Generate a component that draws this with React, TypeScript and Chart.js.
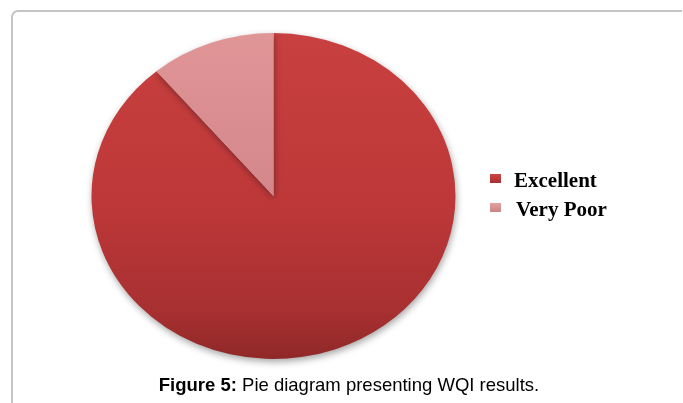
import React, { useEffect, useRef } from "react";
import { Chart, registerables } from "chart.js";

Chart.register(...registerables);

const categories = ["Excellent", "Very Poor"];
const values = [8, 1];
const caption = "Pie diagram presenting WQI results.";
const captionLabel = "Figure 5:";

const Y_SQUASH = 163 / 182;

const ellipsePlugin = {
  id: "ellipse",
  beforeDatasetsDraw(chart: any) {
    const meta = chart.getDatasetMeta(0);
    const arc = meta.data[0];
    if (!arc) return;
    const ctx = chart.ctx;
    ctx.save();
    ctx.translate(arc.x, arc.y);
    ctx.scale(1, Y_SQUASH);
    ctx.translate(-arc.x, -arc.y);
    ctx.shadowColor = "rgba(0,0,0,0.35)";
    ctx.shadowBlur = 7;
    ctx.shadowOffsetX = 1;
    ctx.shadowOffsetY = 3;
  },
  afterDatasetsDraw(chart: any) {
    chart.ctx.restore();
  },
};

export default function App() {
  const ref = useRef<HTMLCanvasElement>(null);

  useEffect(() => {
    if (!ref.current) return;
    const chart = new Chart(ref.current, {
      type: "pie",
      data: {
        labels: categories,
        datasets: [
          {
            data: values,
            backgroundColor: (c: any) => {
              const ch = c.chart;
              const area = ch.chartArea;
              const i = c.dataIndex;
              if (!area) return i === 0 ? "#c0393a" : "#d98a8c";
              const g = ch.ctx.createLinearGradient(0, area.top, 0, area.bottom);
              if (i === 0) {
                g.addColorStop(0, "#c8403f");
                g.addColorStop(0.5, "#bf3839");
                g.addColorStop(0.85, "#a83031");
                g.addColorStop(1, "#902828");
              } else {
                g.addColorStop(0, "#e09597");
                g.addColorStop(0.5, "#d4878a");
                g.addColorStop(1, "#c07070");
              }
              return g;
            },
            borderWidth: 0,
          },
        ],
      },
      options: {
        responsive: false,
        animation: false,
        layout: { padding: { left: 91, right: 227, top: 14, bottom: 25 } },
        plugins: {
          legend: { display: false },
          tooltip: { enabled: false },
        },
      },
      plugins: [ellipsePlugin],
    });
    return () => chart.destroy();
  }, []);

  const legendColors = [
    "linear-gradient(#d04545, #a82e30)",
    "linear-gradient(#e6a0a2, #c98486)",
  ];
  const legendTops = [170, 199];
  const markerTops = [174, 203];

  return (
    <div style={{ position: "absolute", left: 0, top: 0, width: 683, height: 403, overflow: "hidden", background: "#fff" }}>
      <div
        style={{
          position: "absolute",
          left: 11,
          top: 10,
          width: 671,
          height: 420,
          borderTop: "2px solid #c4c4c4",
          borderLeft: "2px solid #c4c4c4",
          borderTopLeftRadius: 7,
          boxSizing: "border-box",
        }}
      />
      <canvas ref={ref} width={683} height={403} style={{ position: "absolute", left: 0, top: 0, display: "block" }} />
      {categories.map((c, i) => (
        <React.Fragment key={c}>
          <div
            style={{
              position: "absolute",
              left: 490,
              top: markerTops[i],
              width: 11,
              height: 9,
              background: legendColors[i],
            }}
          />
          <div
            style={{
              position: "absolute",
              left: i === 0 ? 514 : 516,
              top: legendTops[i],
              font: "bold 21px 'Liberation Serif', serif",
              lineHeight: "21px",
              color: "#000",
              whiteSpace: "nowrap",
            }}
          >
            {c}
          </div>
        </React.Fragment>
      ))}
      <div
        style={{
          position: "absolute",
          left: 0,
          width: 698,
          top: 376,
          textAlign: "center",
          font: "18.5px 'Liberation Sans', Arial, sans-serif",
          lineHeight: "18.5px",
          color: "#000",
          whiteSpace: "nowrap",
        }}
      >
        <b>{captionLabel}</b> {caption}
      </div>
    </div>
  );
}
